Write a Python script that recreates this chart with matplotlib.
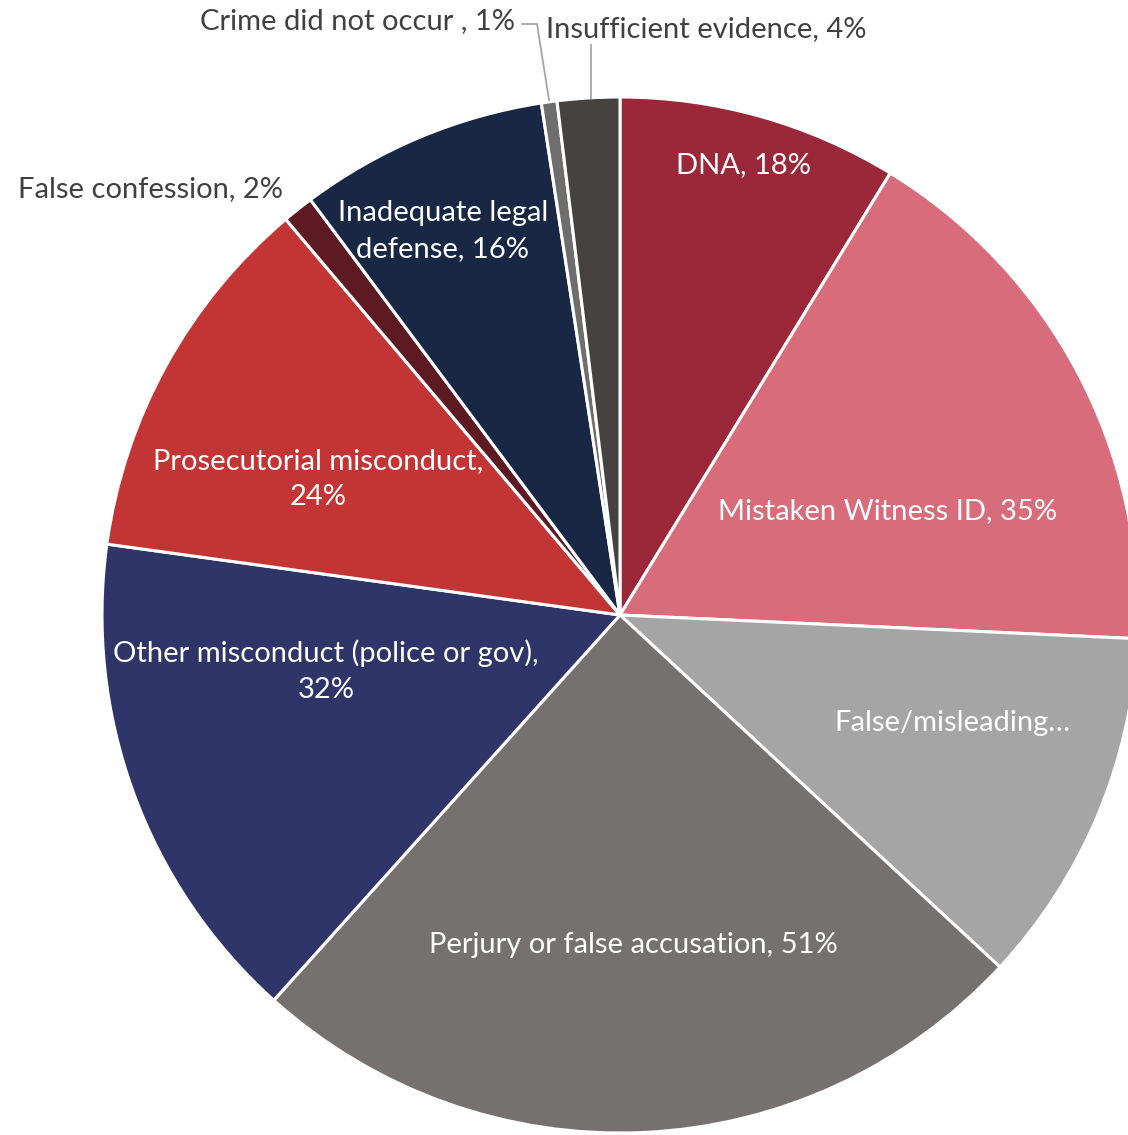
import matplotlib
matplotlib.use("Agg")
import matplotlib.pyplot as plt

# Contributing factors (share of cases)
factors = ["DNA", "Mistaken Witness ID", "False/misleading\u2026", "Perjury or false accusation",
           "Other misconduct (police or gov)", "Prosecutorial misconduct", "False confession",
           "Inadequate legal defense", "Crime did not occur ", "Insufficient evidence"]
pct = [18, 35, 23, 51, 32, 24, 2, 16, 1, 4]
colors = ["#9B2838", "#D86C7A", "#A5A5A5", "#757170", "#2F3568", "#C33535", "#5E1A23",
          "#172744", "#6E6E6E", "#45423F"]

label_text = ["DNA, 18%", "Mistaken Witness ID, 35%", "False/misleading\u2026",
              "Perjury or false accusation, 51%", "Other misconduct (police or gov),\n32%",
              "Prosecutorial misconduct,\n24%", "False confession, 2%",
              "Inadequate legal\ndefense, 16%", "Crime did not occur , 1%",
              "Insufficient evidence, 4%"]

W, H = 1128, 1135
cx, cy, R = 620, 615, 518

fig = plt.figure(figsize=(W / 100, H / 100), dpi=100)
ax = fig.add_axes([(cx - R) / W, (H - cy - R) / H, 2 * R / W, 2 * R / H])

wedges, _ = ax.pie(pct, colors=colors, startangle=90, counterclock=False, radius=1,
                   wedgeprops=dict(edgecolor="white", linewidth=2.2))
ax.set_aspect("auto")
ax.set_xlim(-1, 1)
ax.set_ylim(-1, 1)
ax.axis("off")
for w in wedges:
    w.set_clip_on(False)


def px(x, y):
    # pixel position in the picture -> data coords of the pie axes
    return (x - cx) / R, (cy - y) / R


# label centres in picture pixels (layout only)
label_pos = [(743, 165), (888, 511), (952, 723), (633, 945), (326, 671),
             (318, 479), (150, 189), (443, 231), (357, 21), (706, 29)]
inside = [True, True, True, True, True, True, False, True, False, False]

fam = ["Lato", "DejaVu Sans"]
for txt, (x, y), ins in zip(label_text, label_pos, inside):
    ax.text(*px(x, y), txt, ha="center", va="center", fontsize=21, family=fam,
            color="white" if ins else "#404040", linespacing=1.45, clip_on=False)

# leader lines for the two thin top slices
lx, ly = zip(px(522, 24), px(537, 24), px(549, 100))
ax.plot(lx, ly, color="#A6A6A6", lw=1.3, clip_on=False)
lx, ly = zip(px(591, 45), px(591, 98))
ax.plot(lx, ly, color="#A6A6A6", lw=1.3, clip_on=False)

fig.savefig("out.png", dpi=100)
